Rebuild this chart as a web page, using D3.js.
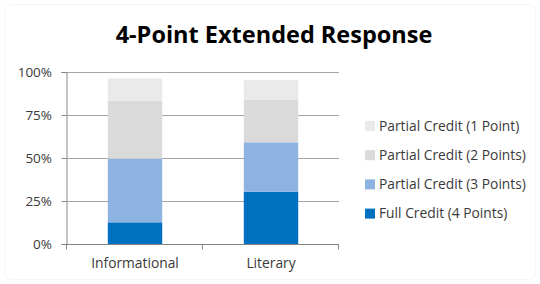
<!DOCTYPE html>
<html>
<head>
<meta charset="utf-8">
<script src="https://cdn.jsdelivr.net/npm/d3@7"></script>
<style>
  body { margin: 0; background: #fff; }
  svg { display: block; font-family: "Open Sans", "Noto Sans", sans-serif; }
</style>
</head>
<body>
<svg id="chart"></svg>
<script>
let categories = ['Informational', 'Literary']
let seriesNames = ['Full Credit (4 Points)', 'Partial Credit (3 Points)', 'Partial Credit (2 Points)', 'Partial Credit (1 Point)']
let fullCredit = [12.6, 30.4]
let partial3 = [37.0, 28.7]
let partial2 = [33.7, 24.6]
let partial1 = [13.0, 11.6]
let yTicks = [0, 25, 50, 75, 100]
let colors = ['#0070C0', '#8DB3E2', '#DADADA', '#EAEAEA']

let width = 540
let height = 284
let plot = { left: 67, right: 339, top: 72, bottom: 244 }

let svg = d3.select('#chart').attr('width', width).attr('height', height)

// faint outer frame
svg.append('rect')
  .attr('x', 4.5).attr('y', 4.5)
  .attr('width', width - 9).attr('height', height - 9)
  .attr('rx', 6)
  .attr('fill', 'none')
  .attr('stroke', '#f6f6f6')

svg.append('text')
  .attr('x', 274).attr('y', 43)
  .attr('text-anchor', 'middle')
  .attr('font-size', 23.5)
  .attr('font-weight', 'bold')
  .attr('fill', '#000')
  .text('4-Point Extended Response')

let xScale = d3.scaleBand()
  .domain(categories)
  .range([plot.left, plot.right])
  .paddingInner(0.6)
  .paddingOuter(0.3)

let yScale = d3.scaleLinear()
  .domain([0, 100])
  .range([plot.bottom, plot.top])

// gridlines
svg.append('g')
  .selectAll('line')
  .data(yTicks.slice(1))
  .enter()
  .append('line')
  .attr('x1', plot.left).attr('x2', plot.right)
  .attr('y1', d => Math.round(yScale(d)) + 0.5)
  .attr('y2', d => Math.round(yScale(d)) + 0.5)
  .attr('stroke', '#a6a6a6')

let stackData = categories.map((c, i) => ({
  cat: c, s0: fullCredit[i], s1: partial3[i], s2: partial2[i], s3: partial1[i]
}))
let stack = d3.stack().keys(['s0', 's1', 's2', 's3'])
let layers = stack(stackData)

svg.append('g')
  .selectAll('g')
  .data(layers)
  .enter()
  .append('g')
  .attr('fill', (d, i) => colors[i])
  .selectAll('rect')
  .data(d => d)
  .enter()
  .append('rect')
  .attr('x', d => xScale(d.data.cat))
  .attr('width', xScale.bandwidth())
  .attr('y', d => yScale(d[1]))
  .attr('height', d => yScale(d[0]) - yScale(d[1]))

// y axis
let yAxis = d3.axisLeft(yScale)
  .tickValues(yTicks)
  .tickFormat(d => d + '%')
  .tickSize(5)
  .tickPadding(9.5)

let yG = svg.append('g')
  .attr('transform', 'translate(' + (plot.left - 0.5) + ',0)')
  .call(yAxis)
yG.select('.domain').attr('stroke', '#868686')
yG.selectAll('.tick line').attr('stroke', '#868686')
yG.selectAll('.tick text').attr('font-size', 13.5).attr('fill', '#3a3a3a')
  .attr('font-family', '"Open Sans", sans-serif')

// x axis
let xAxis = d3.axisBottom(xScale).tickSize(0).tickPadding(14)
let xG = svg.append('g')
  .attr('transform', 'translate(0,' + (plot.bottom + 0.5) + ')')
  .call(xAxis)
xG.select('.domain').remove()
xG.append('line')
  .attr('x1', plot.left - 5).attr('x2', plot.right)
  .attr('stroke', '#868686')
xG.selectAll('.tickmark')
  .data([plot.left, (plot.left + plot.right) / 2, plot.right])
  .enter()
  .append('line')
  .attr('x1', d => Math.round(d) - 0.5).attr('x2', d => Math.round(d) - 0.5)
  .attr('y1', 0).attr('y2', 5)
  .attr('stroke', '#868686')
xG.selectAll('.tick text').attr('font-size', 13.8).attr('fill', '#3a3a3a')
  .attr('font-family', '"Open Sans", sans-serif')

// legend, top to bottom reversed
let legendItems = seriesNames.map((n, i) => ({ name: n, color: colors[i] })).reverse()
let legend = svg.append('g')
  .selectAll('g')
  .data(legendItems)
  .enter()
  .append('g')
  .attr('transform', (d, i) => 'translate(365,' + (126 + i * 29.2) + ')')
legend.append('rect')
  .attr('x', 0).attr('y', -5)
  .attr('width', 10).attr('height', 10)
  .attr('fill', d => d.color)
legend.append('text')
  .attr('x', 14).attr('y', 0)
  .attr('dy', '0.35em')
  .attr('font-size', 13.8)
  .attr('fill', '#3a3a3a')
  .text(d => d.name)
</script>
</body>
</html>
